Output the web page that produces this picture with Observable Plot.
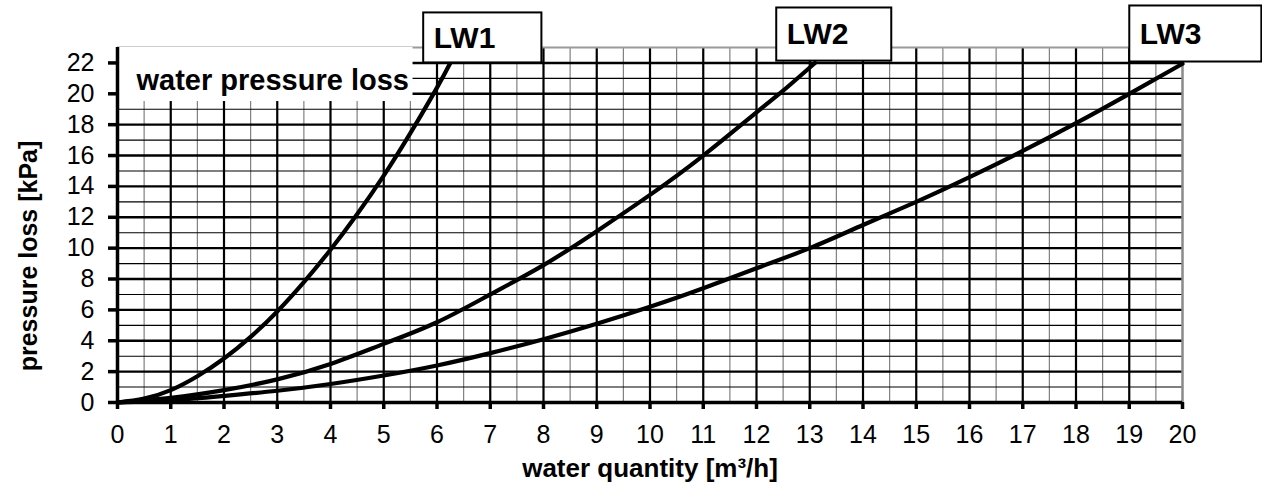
<!DOCTYPE html>
<html>
<head>
<meta charset="utf-8">
<script src="https://cdn.jsdelivr.net/npm/d3@7"></script>
<script src="https://cdn.jsdelivr.net/npm/@observablehq/plot@0.6"></script>
<style>
  html, body { margin: 0; padding: 0; background: #fff; }
  svg { display: block; }
</style>
</head>
<body>
<div id="chart"></div>
<script>
// ---- data ----
const lw1X = [0, 0.5, 1, 1.5, 2, 2.5, 3, 3.5, 4, 4.5, 5, 5.5, 6, 6.25];
const lw1Y = [0, 0.25, 0.8, 1.7, 2.85, 4.25, 5.9, 7.8, 9.9, 12.2, 14.7, 17.45, 20.4, 22];

const lw2X = [0, 1, 2, 3, 4, 5, 6, 7, 8, 9, 10, 11, 12, 12.5, 13.1];
const lw2Y = [0, 0.3, 0.8, 1.5, 2.5, 3.8, 5.2, 7.0, 8.9, 11.1, 13.45, 16.0, 18.8, 20.2, 22];

const lw3X = [0, 1, 2, 3, 4, 5, 6, 7, 8, 9, 10, 11, 12, 13, 14, 15, 16, 17, 18, 19, 20];
const lw3Y = [0, 0.15, 0.43, 0.76, 1.2, 1.75, 2.4, 3.2, 4.1, 5.1, 6.2, 7.4, 8.7, 10.0, 11.5, 13.0, 14.6, 16.3, 18.1, 20.0, 21.95];

const seriesNames = ["LW1", "LW2", "LW3"];
// label boxes (data units)
const labelX1 = [5.75, 12.38, 19.01];
const labelX2 = [7.97, 14.54, 21.49];
const labelY1 = [22.0, 22.12, 22.06];
const labelY2 = [25.24, 25.56, 25.69];

const xTicks = d3.range(0, 21, 1);
const yTicks = d3.range(0, 23, 2);
const xMinor = d3.range(0.5, 20, 1);
const xMajor = d3.range(1, 20, 1);
const yOdd = d3.range(1, 23, 2);
const yEven = d3.range(2, 23, 2);

const titleText = "water pressure loss";
const xLabel = "water quantity [m³/h]";
const yLabel = "pressure loss [kPa]";

// ---- tables ----
const lines = [
  ...lw1X.map((x, i) => ({series: "LW1", x, y: lw1Y[i]})),
  ...lw2X.map((x, i) => ({series: "LW2", x, y: lw2Y[i]})),
  ...lw3X.map((x, i) => ({series: "LW3", x, y: lw3Y[i]}))
];
const boxes = seriesNames.map((name, i) => ({
  name, x1: labelX1[i], x2: labelX2[i], y1: labelY1[i], y2: labelY2[i]
}));

const font = "'Liberation Sans', Arial, Helvetica, sans-serif";

const chart = Plot.plot({
  width: 1262,
  height: 488,
  marginLeft: 117,
  marginRight: 80,
  marginTop: 47,
  marginBottom: 86,
  style: {fontFamily: font, background: "#fff", color: "#000"},
  x: {domain: [0, 20]},
  y: {domain: [0, 23]},
  marks: [
    // grid
    Plot.ruleX(xMinor, {stroke: "#808080", strokeWidth: 1.2}),
    Plot.ruleY(yOdd, {stroke: "#000", strokeWidth: 1.1}),
    Plot.ruleX(xMajor, {stroke: "#000", strokeWidth: 2.2}),
    Plot.ruleY(yEven, {stroke: "#000", strokeWidth: 2.4}),
    Plot.ruleY([23], {stroke: "#9a9a9a", strokeWidth: 2}),
    Plot.ruleX([20], {stroke: "#8a8a8a", strokeWidth: 2.5}),
    // title box
    Plot.rect([titleText], {x1: 0, x2: 5.55, y1: 19.5, y2: 23, fill: "#fff"}),
    Plot.text([titleText], {x: 0, y: 20.85, dx: 19, text: d => d, textAnchor: "start",
      lineAnchor: "middle", fontSize: 29, fontWeight: "bold", fill: "#000"}),
    // curves
    Plot.line(lines, {x: "x", y: "y", z: "series", stroke: "#000", strokeWidth: 4.2, curve: "natural"}),
    // axis lines
    Plot.ruleX([0], {stroke: "#000", strokeWidth: 3.5}),
    Plot.ruleY([0], {stroke: "#000", strokeWidth: 3.5}),
    // axes
    Plot.axisY(yTicks, {tickSize: 9, strokeWidth: 3.5, tickPadding: 14, fontSize: 25, label: null, fill: "#000"}),
    Plot.axisX(xTicks, {tickSize: 7, strokeWidth: 3.5, tickPadding: 16, fontSize: 25, label: null, fill: "#000"}),
    // axis labels
    Plot.text([yLabel], {frameAnchor: "left", dx: -89, dy: 31, rotate: -90, text: d => d,
      textAnchor: "middle", lineAnchor: "middle", fontSize: 25, fontWeight: "bold", fill: "#000"}),
    Plot.text([xLabel], {frameAnchor: "bottom", dy: 66, text: d => d,
      textAnchor: "middle", lineAnchor: "middle", fontSize: 26, fontWeight: "bold", fill: "#000"}),
    // series label boxes
    Plot.rect(boxes, {x1: "x1", x2: "x2", y1: "y1", y2: "y2", fill: "#fff", stroke: "#000", strokeWidth: 2}),
    Plot.text(boxes, {x: "x1", y: d => (d.y1 + d.y2) / 2, dx: 10, text: "name", textAnchor: "start",
      lineAnchor: "middle", fontSize: 30, fontWeight: "bold", fill: "#000"})
  ]
});
document.getElementById("chart").appendChild(chart);
</script>
</body>
</html>
